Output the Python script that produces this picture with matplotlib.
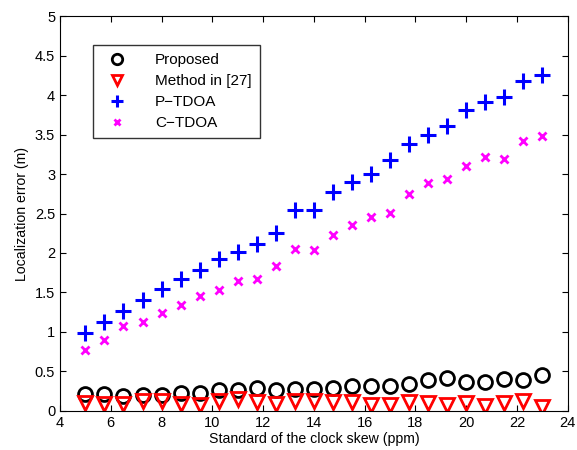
import matplotlib
matplotlib.use('Agg')
import matplotlib.pyplot as plt

plt.rcParams['font.family'] = ['Liberation Sans', 'DejaVu Sans']

skew = [5, 5.75, 6.5, 7.25, 8, 8.75, 9.5, 10.25, 11, 11.75, 12.5, 13.25, 14,
        14.75, 15.5, 16.25, 17, 17.75, 18.5, 19.25, 20, 20.75, 21.5, 22.25, 23]

proposed = [0.21, 0.21, 0.19, 0.20, 0.20, 0.23, 0.23, 0.26, 0.27, 0.29, 0.27, 0.28, 0.28,
            0.29, 0.31, 0.31, 0.31, 0.34, 0.39, 0.41, 0.37, 0.37, 0.40, 0.39, 0.46]
method27 = [0.10, 0.09, 0.09, 0.13, 0.12, 0.09, 0.08, 0.12, 0.15, 0.11, 0.09, 0.13, 0.13,
            0.11, 0.11, 0.08, 0.08, 0.11, 0.10, 0.08, 0.10, 0.06, 0.10, 0.13, 0.05]
p_tdoa = [0.98, 1.13, 1.26, 1.41, 1.54, 1.67, 1.79, 1.92, 2.01, 2.11, 2.25, 2.54, 2.55,
          2.77, 2.90, 3.00, 3.18, 3.38, 3.49, 3.61, 3.81, 3.91, 3.97, 4.18, 4.26]
c_tdoa = [0.77, 0.90, 1.07, 1.12, 1.24, 1.34, 1.46, 1.53, 1.64, 1.67, 1.84, 2.05, 2.04,
          2.23, 2.35, 2.46, 2.51, 2.75, 2.89, 2.94, 3.10, 3.22, 3.19, 3.42, 3.48]

fig = plt.figure(figsize=(5.77, 4.5), dpi=100)
ax = fig.add_axes([0.104, 0.087, 0.88, 0.877])

ax.plot(skew, proposed, 'o', ms=10, mfc='none', mec='black', mew=2, label='Proposed')
ax.plot(skew, method27, 'v', ms=9.5, mfc='none', mec='red', mew=2, label='Method in [27]')
ax.plot(skew, p_tdoa, '+', ms=11, mec='blue', mew=2.2, label='P\u2212TDOA')
ax.plot(skew, c_tdoa, 'x', ms=5.5, mec='magenta', mew=2, label='C\u2212TDOA')

ax.set_xlim(4, 24)
ax.set_ylim(0, 5)
ax.set_xticks(range(4, 25, 2))
ax.set_yticks([0, 0.5, 1, 1.5, 2, 2.5, 3, 3.5, 4, 4.5, 5])
ax.set_yticklabels(['0', '0.5', '1', '1.5', '2', '2.5', '3', '3.5', '4', '4.5', '5'])
ax.tick_params(direction='in', top=True, right=True, labelsize=10.5, length=4)
ax.set_xlabel('Standard of the clock skew (ppm)', fontsize=10.2, labelpad=2)
ax.set_ylabel('Localization error (m)', fontsize=10.2)

leg = ax.legend(loc='upper left', bbox_to_anchor=(0.065, 0.927), fontsize=11,
                frameon=True, fancybox=False, edgecolor='black', borderpad=0.55,
                handletextpad=1.5, labelspacing=0.45, borderaxespad=0, markerscale=0.75)
leg.get_frame().set_linewidth(1)

fig.savefig('out.png', dpi=100)
